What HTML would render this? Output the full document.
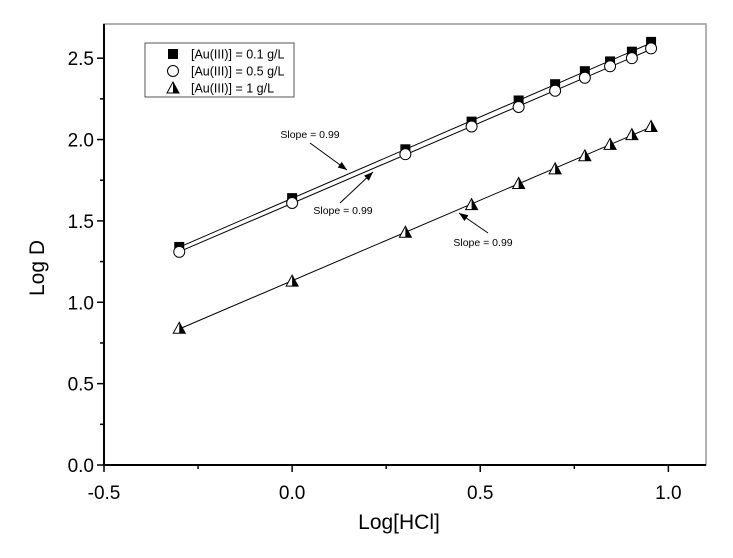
<!DOCTYPE html>
<html><head><meta charset="utf-8">
<style>
html,body{margin:0;padding:0;background:#fff;}
svg{display:block;font-family:"Liberation Sans",Arial,sans-serif;}
</style></head>
<body>
<svg id="chart" width="733" height="558" viewBox="0 0 733 558" xmlns="http://www.w3.org/2000/svg">
<g id="plot"></g>
</svg>
<script>
const xValues = [-0.3, 0, 0.301, 0.477, 0.602, 0.699, 0.778, 0.845, 0.903, 0.954];
const series01 = [1.34, 1.64, 1.94, 2.11, 2.24, 2.34, 2.42, 2.48, 2.54, 2.60];
const series05 = [1.31, 1.61, 1.91, 2.08, 2.20, 2.30, 2.38, 2.45, 2.50, 2.56];
const series1 = [0.84, 1.13, 1.43, 1.60, 1.73, 1.82, 1.90, 1.97, 2.03, 2.08];
const xTicks = [-0.5, 0.0, 0.5, 1.0];
const xTickLabels = ["-0.5", "0.0", "0.5", "1.0"];
const yTicks = [0, 0.5, 1.0, 1.5, 2.0, 2.5];
const yTickLabels = ["0.0", "0.5", "1.0", "1.5", "2.0", "2.5"];
const legendLabels = ["[Au(III)] = 0.1 g/L", "[Au(III)] = 0.5 g/L", "[Au(III)] = 1 g/L"];

const L = 104, R = 706, T = 24, B = 465;
const xMin = -0.5, xMax = 1.1, yMin = 0, yMax = 2.71;
const sx = v => L + (v - xMin) / (xMax - xMin) * (R - L);
const sy = v => B - (v - yMin) / (yMax - yMin) * (B - T);
const NS = "http://www.w3.org/2000/svg";
const g = document.getElementById('plot');
function mk(tag, attrs, parent) {
  const e = document.createElementNS(NS, tag);
  for (const k in attrs) e.setAttribute(k, attrs[k]);
  (parent || g).appendChild(e);
  return e;
}
let fr = mk('rect', {x: L, y: T, width: R - L, height: B - T, fill: 'none', stroke: '#999', 'stroke-width': 1.5});


let xa = mk('line', {x1: L, y1: B, x2: R, y2: B, stroke: '#000', 'stroke-width': 2});


let ya = mk('line', {x1: L, y1: T, x2: L, y2: B, stroke: '#000', 'stroke-width': 2});


for (let i = 0; i < xTicks.length; i++) {
  const x = sx(xTicks[i]);
  mk('line', {x1: x, y1: B, x2: x, y2: B + 7, stroke: '#000', 'stroke-width': 1.5});
  if (xTicks[i] + 0.25 < xMax) {
    const xm = sx(xTicks[i] + 0.25);
    mk('line', {x1: xm, y1: B, x2: xm, y2: B + 4, stroke: '#000', 'stroke-width': 1.5});
  }
  const t = mk('text', {x: x, y: B + 34, 'text-anchor': 'middle', 'font-size': 19});
  t.textContent = xTickLabels[i];
  
  
}
for (let i = 0; i < yTicks.length; i++) {
  const y = sy(yTicks[i]);
  mk('line', {x1: L - 7, y1: y, x2: L, y2: y, stroke: '#000', 'stroke-width': 1.5});
  if (yTicks[i] + 0.25 < yMax) {
    const ym = sy(yTicks[i] + 0.25);
    mk('line', {x1: L - 4, y1: ym, x2: L, y2: ym, stroke: '#000', 'stroke-width': 1.5});
  }
  const t = mk('text', {x: L - 10, y: y + 7, 'text-anchor': 'end', 'font-size': 19});
  t.textContent = yTickLabels[i];
  
  
}
let xt = mk('text', {x: 399, y: 529, 'text-anchor': 'middle', 'font-size': 21});
xt.textContent = 'Log[HCl]';


let yt = mk('text', {x: 0, y: 0, 'text-anchor': 'middle', 'font-size': 21, transform: 'translate(44,268) rotate(-90)'});
yt.textContent = 'Log D';



function fit(xs, ys) {
  const n = xs.length;
  const mx = xs.reduce((a, b) => a + b) / n, my = ys.reduce((a, b) => a + b) / n;
  let sxy = 0, sxx = 0;
  for (let i = 0; i < n; i++) { sxy += (xs[i] - mx) * (ys[i] - my); sxx += (xs[i] - mx) ** 2; }
  const m = sxy / sxx; return [m, my - m * mx];
}
function square(x, y) { return mk('rect', {x: x - 5, y: y - 5, width: 10, height: 10, fill: '#000'}); }
function circle(x, y) { return mk('circle', {cx: x, cy: y, r: 5.5, fill: '#fff', stroke: '#000', 'stroke-width': 1}); }
function tri(x, y) {
  const gg = mk('g', {});
  mk('polygon', {points: `${x},${y-6} ${x-6},${y+5} ${x+6},${y+5}`, fill: '#fff', stroke: '#000', 'stroke-width': 1}, gg);
  mk('polygon', {points: `${x},${y-6} ${x},${y+5} ${x+6},${y+5}`, fill: '#000'}, gg);
  return gg;
}
const allSeries = [[series01, square, 'square'], [series05, circle, 'circle'], [series1, tri, 'triangle']];
allSeries.forEach(([ys, fn, nm]) => {
  const [m, b] = fit(xValues, ys);
  const x0 = xValues[0], x1 = xValues[xValues.length - 1];
  const ln = mk('line', {x1: sx(x0), y1: sy(m * x0 + b), x2: sx(x1), y2: sy(m * x1 + b), stroke: '#000', 'stroke-width': 1});
  
  
});
allSeries.forEach(([ys, fn, nm]) => {
  ys.forEach((v, i) => {
    const e = fn(sx(xValues[i]), sy(v));
    
    
  });
});
const notes = [[310, 138, 310, 143, 347, 170], [343, 214, 340, 203, 373, 172], [483, 246, 488, 233, 459, 213]];
notes.forEach(([tx, ty, ax1, ay1, ax2, ay2]) => {
  const t = mk('text', {x: tx, y: ty, 'text-anchor': 'middle', 'font-size': 10.5});
  t.textContent = 'Slope = 0.99';
  
  
  mk('line', {x1: ax1, y1: ay1, x2: ax2, y2: ay2, stroke: '#000', 'stroke-width': 1});
  const ang = Math.atan2(ay2 - ay1, ax2 - ax1), h = 9, w = 3.5;
  const bx = ax2 - h * Math.cos(ang), by = ay2 - h * Math.sin(ang);
  const a = mk('polygon', {points: `${ax2},${ay2} ${bx - w*Math.sin(ang)},${by + w*Math.cos(ang)} ${bx + w*Math.sin(ang)},${by - w*Math.cos(ang)}`, fill: '#000'});
  
  
});
const lg = mk('g', {});


mk('rect', {x: 145, y: 43, width: 149, height: 54, fill: '#fff', stroke: '#555', 'stroke-width': 1}, lg);
const legFns = [square, circle, tri];
legendLabels.forEach((lab, i) => {
  const y = 54 + i * 17;
  const mkr = legFns[i](173, y);
  lg.appendChild(mkr);
  const t = mk('text', {x: 191, y: y + 4.5, 'font-size': 12.5}, lg);
  t.textContent = lab;
  
  
});
</script>
</body></html>
